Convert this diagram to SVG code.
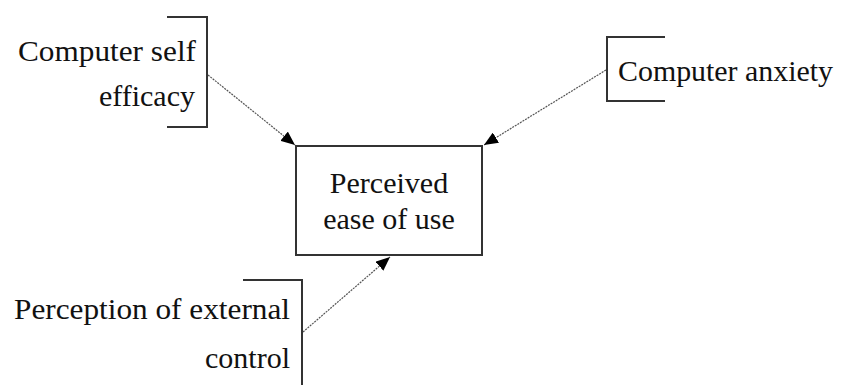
<svg xmlns="http://www.w3.org/2000/svg" width="848" height="385" viewBox="0 0 848 385">
<style>
.t{font-family:"Liberation Serif",serif;font-size:30px;fill:#111}
.br{fill:none;stroke:#333;stroke-width:2}
.c{fill:none;stroke:#555;stroke-width:1.2;stroke-dasharray:2 1}
</style>
<defs>
<marker id="ah" viewBox="0 0 14 12" refX="14" refY="6" markerWidth="14" markerHeight="12" markerUnits="userSpaceOnUse" orient="auto">
<path d="M0,0 L14,6 L0,12 Z" fill="#000"/>
</marker>
</defs>
<rect width="848" height="385" fill="#fff"/>
<g id="cse">
<path class="br" d="M167,17 H207 V127 H167"/>
<text class="t" x="196" y="61" text-anchor="end" textLength="178" lengthAdjust="spacingAndGlyphs">Computer self</text>
<text class="t" x="195" y="106" text-anchor="end">efficacy</text>
</g>
<g id="ca">
<path class="br" d="M665,37 H607 V101 H665"/>
<text class="t" x="618" y="81" textLength="215" lengthAdjust="spacingAndGlyphs">Computer anxiety</text>
</g>
<g id="peou">
<rect x="296" y="146" width="186" height="109" fill="#fff" stroke="#333" stroke-width="2"/>
<text class="t" x="389" y="193" text-anchor="middle">Perceived</text>
<text class="t" x="389" y="229" text-anchor="middle">ease of use</text>
</g>
<g id="pec">
<path class="br" d="M243,280 H302 V385"/>
<text class="t" x="290" y="319" text-anchor="end" textLength="276" lengthAdjust="spacingAndGlyphs">Perception of external</text>
<text class="t" x="290" y="368" text-anchor="end">control</text>
</g>
<g id="connectors">
<line class="c" x1="208" y1="75" x2="295" y2="145" marker-end="url(#ah)"/>
<line class="c" x1="606" y1="70" x2="484" y2="145" marker-end="url(#ah)"/>
<line class="c" x1="303" y1="332" x2="390" y2="257" marker-end="url(#ah)"/>
</g>
</svg>
